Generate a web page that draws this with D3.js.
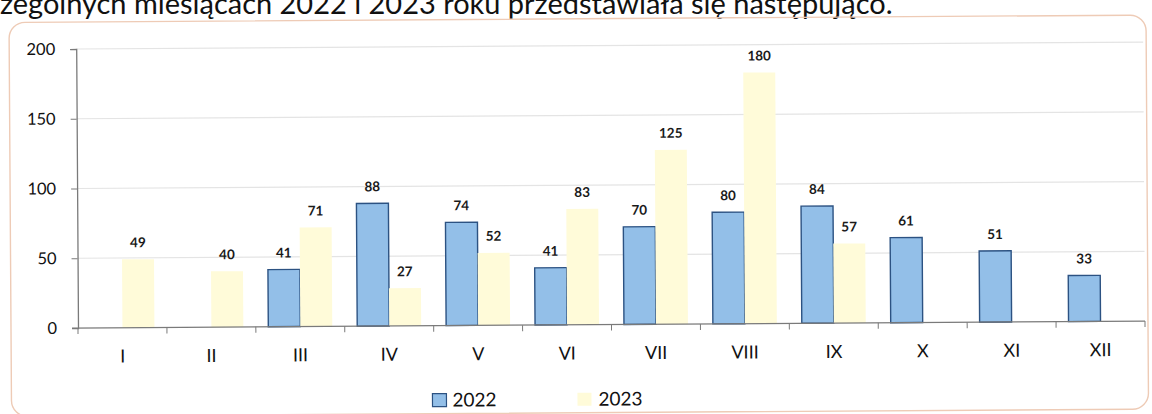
<!DOCTYPE html>
<html><head><meta charset="utf-8">
<script src="https://cdn.jsdelivr.net/npm/d3@7"></script>
<style>
html,body{margin:0;padding:0;background:#fff;overflow:hidden;}
svg{display:block;}
</style></head>
<body>
<svg id="c" width="1152" height="414"></svg>
<script>
const months = ["I","II","III","IV","V","VI","VII","VIII","IX","X","XI","XII"];
const seriesNames = ["2022","2023"];
const values2022 = [null,null,41,88,74,41,70,80,84,61,51,33];
const values2023 = [49,40,71,27,52,83,125,180,57,null,null,null];
const yTicks = [0,50,100,150,200];
const headerText = "zególnych miesiącach 2022 i 2023 roku przedstawiała się następująco.";

const colors = {"2022":"#93bfe8","2023":"#fffbd9"};
const strokes = {"2022":"#2c5282","2023":"none"};
const FONT = "Lato, 'Open Sans', sans-serif";

const svg = d3.select("#c");
svg.append("rect").attr("width",1152).attr("height",414).attr("fill","#fff");

// header text (cut at top, as in the source scan)
const ht = svg.append("text").attr("x",0).attr("y",14)
  .attr("font-family",FONT).attr("font-size",24).attr("fill","#111").text(headerText);
const hl = ht.node().getComputedTextLength();
ht.attr("font-size", 24*893/hl);

const g = svg.append("g").attr("transform","rotate(-0.37,78,328)");

// frame
g.append("rect").attr("x",11).attr("y",22).attr("width",1137).attr("height",394)
  .attr("rx",16).attr("fill","none").attr("stroke","#eecbb6").attr("stroke-width",1.4);

const x = d3.scaleBand().domain(months).range([78,1145]).paddingInner(0).paddingOuter(0);
const xs = d3.scaleBand().domain(seriesNames).range([0,x.bandwidth()]).paddingInner(0).paddingOuter(0.39);
const y = d3.scaleLinear().domain([0,200]).range([328,49]);

// gridlines
g.append("g").selectAll("line").data(yTicks.filter(d=>d>0)).join("line")
  .attr("x1",78).attr("x2",1145).attr("y1",d=>y(d)).attr("y2",d=>y(d))
  .attr("stroke","#e4e4e4").attr("stroke-width",1.2);

// bars
const rows = [];
months.forEach((m,i)=>{
  [["2022",values2022[i]],["2023",values2023[i]]].forEach(([s,v])=>{
    if(v!==null) rows.push({m,s,v});
  });
});
g.append("g").selectAll("rect").data(rows).join("rect")
  .attr("x",d=>x(d.m)+xs(d.s)).attr("width",xs.bandwidth())
  .attr("y",d=>y(d.v)).attr("height",d=>y(0)-y(d.v))
  .attr("fill",d=>colors[d.s]).attr("stroke",d=>strokes[d.s]).attr("stroke-width",1.4);

// data labels
g.append("g").selectAll("text").data(rows).join("text")
  .attr("x",d=>x(d.m)+xs(d.s)+xs.bandwidth()/2).attr("y",d=>y(d.v)-12)
  .attr("text-anchor","middle").attr("font-family",FONT).attr("font-size",13.5)
  .attr("font-weight",700).attr("fill","#1a1a1a").text(d=>d.v);

// y axis
const ya = g.append("g").attr("transform","translate(78,0)")
  .call(d3.axisLeft(y).tickValues(yTicks).tickSize(6).tickPadding(15));
ya.select(".domain").attr("stroke","#7a7a7a").attr("stroke-width",1.3);
ya.selectAll(".tick line").attr("stroke","#7a7a7a");
ya.selectAll("text").attr("font-family",FONT).attr("font-size",16.5).attr("fill","#111");

// x axis
const xa = g.append("g").attr("transform","translate(0,328)")
  .call(d3.axisBottom(x).tickSize(0).tickPadding(22));
xa.select(".domain").remove();
g.append("line").attr("x1",72).attr("x2",1145).attr("y1",328).attr("y2",328)
  .attr("stroke","#7a7a7a").attr("stroke-width",1.3);
const bounds = months.map(m=>x(m)).concat([x.range()[1]]);
g.append("g").selectAll("line").data(bounds).join("line")
  .attr("x1",d=>d).attr("x2",d=>d).attr("y1",328).attr("y2",334)
  .attr("stroke","#7a7a7a");
xa.selectAll("text").attr("font-family",FONT).attr("font-size",18).attr("fill","#111");

// legend
const lg = g.append("g");
const legendPos = [{s:"2022",x:432,tx:452},{s:"2023",x:577,tx:598}];
legendPos.forEach(p=>{
  lg.append("rect").attr("x",p.x).attr("y",396).attr("width",14).attr("height",13)
    .attr("fill",colors[p.s]).attr("stroke",strokes[p.s]).attr("stroke-width",1.2);
  lg.append("text").attr("x",p.tx).attr("y",409).attr("font-family",FONT)
    .attr("font-size",19).attr("fill","#111").text(p.s);
});
</script>
</body></html>
